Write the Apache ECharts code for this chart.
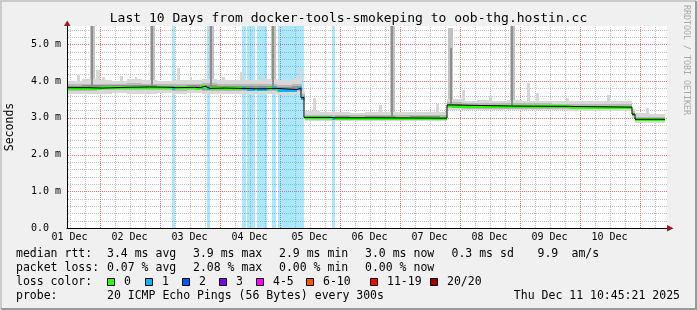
<!DOCTYPE html>
<html><head><meta charset="utf-8">
<script src="https://cdn.jsdelivr.net/npm/echarts@6/dist/echarts.min.js"></script>
<style>html,body{margin:0;padding:0;background:#f0f0f0}#c{width:697px;height:310px}</style>
</head><body><div id="c"></div>
<script>
// ---------- data (time = hours since 01 Dec 00:00) ----------
const xMinHour = 11, xMaxHour = 251, yMax = 5.5;
const dayLabels = ['01 Dec','02 Dec','03 Dec','04 Dec','05 Dec','06 Dec','07 Dec','08 Dec','09 Dec','10 Dec'];
const dayLabelHours = [12,36,60,84,108,132,156,180,204,228];
const majorGridHours = [24,48,72,96,120,144,168,192,216,240];
const minorGridHours = [12,18,30,36,42,54,60,66,78,84,90,102,108,114,126,132,138,150,156,162,174,180,186,198,204,210,222,228,234,246];
const majorGridValues = [1,2,3,4,5];
const minorGridValues = [0.2,0.4,0.6,0.8,1.2,1.4,1.6,1.8,2.2,2.4,2.6,2.8,3.2,3.4,3.6,3.8,4.2,4.4,4.6,4.8,5.2,5.4];

// median rtt (ms), step segments
const medT = [11,19,25,35,44,53,54.2,62,64.2,66.2,67,68.2,74,81,82.6,83,86.2,87,91,93,94.6,95.4,103,104.6,105.8,117,118.2,135,163,165,190,212,225,237,238.2];
const medV = [3.82,3.81,3.83,3.84,3.83,3.82,3.83,3.82,3.86,3.81,3.80,3.81,3.80,3.80,3.80,3.79,3.80,3.79,3.80,3.80,3.79,3.77,3.81,3.55,3.01,3.00,3.00,2.99,3.35,3.32,3.31,3.30,3.29,3.10,2.96];
const medLoss = [0,0,0,0,0,1,0,0,0,0,1,0,0,1,0,1,0,1,0,1,0,1,1,1,0,1,0,0,0,0,0,0,0,0,0];
const medEnd = 250.2;

// smoke layers
const smokeEdges = [11,17,23,29,35,41,47,53,59,65,71,77,83,89,95,101,105,106,112,118,124,130,136,142,148,154,160,163,169,175,181,187,193,199,205,211,217,223,229,237,238,244,250.2];
const outerLo = [3.66,3.65,3.66,3.67,3.66,3.66,3.67,3.66,3.67,3.65,3.66,3.64,3.65,3.64,3.63,3.65,3.45,2.90,2.91,2.90,2.90,2.91,2.90,2.90,2.91,2.90,2.91,3.20,3.21,3.20,3.21,3.20,3.21,3.20,3.20,3.19,3.19,3.19,3.18,3.00,2.86,2.86];
const outerHi = [4.00,4.05,4.02,4.00,4.06,4.02,4.00,4.03,4.02,4.05,4.02,4.04,4.03,4.05,4.02,4.08,3.72,3.18,3.15,3.16,3.14,3.17,3.15,3.16,3.15,3.17,3.15,3.50,3.47,3.48,3.47,3.48,3.46,3.47,3.46,3.46,3.45,3.46,3.45,3.25,3.12,3.10];
const midLo = [3.74,3.74,3.75,3.75,3.75,3.76,3.75,3.74,3.75,3.74,3.74,3.73,3.73,3.72,3.71,3.72,3.50,2.95,2.95,2.95,2.95,2.95,2.94,2.95,2.95,2.95,2.95,3.26,3.25,3.25,3.25,3.25,3.25,3.25,3.24,3.24,3.24,3.23,3.23,3.05,2.90,2.90];
const midHi = [3.92,3.93,3.92,3.93,3.94,3.93,3.92,3.92,3.93,3.95,3.92,3.93,3.92,3.92,3.90,3.93,3.66,3.08,3.07,3.08,3.07,3.08,3.08,3.07,3.08,3.08,3.07,3.42,3.40,3.39,3.40,3.40,3.39,3.39,3.38,3.38,3.38,3.37,3.37,3.18,3.03,3.02];
const innerLo = [3.78,3.78,3.79,3.79,3.79,3.79,3.78,3.78,3.79,3.77,3.77,3.77,3.77,3.76,3.75,3.76,3.53,2.97,2.97,2.97,2.97,2.97,2.97,2.97,2.97,2.97,2.97,3.29,3.28,3.28,3.28,3.28,3.28,3.28,3.27,3.27,3.27,3.26,3.26,3.08,2.93,2.93];
const innerHi = [3.87,3.88,3.88,3.89,3.89,3.88,3.87,3.87,3.88,3.88,3.86,3.86,3.86,3.86,3.84,3.87,3.60,3.04,3.03,3.04,3.03,3.04,3.04,3.03,3.04,3.04,3.03,3.37,3.35,3.35,3.35,3.35,3.34,3.34,3.34,3.33,3.33,3.32,3.32,3.14,2.99,2.99];

// small smoke blips
const blipStart = [15.0,22.6,25.0,32.2,38.0,54.8,60.0,73.0,80.2,88.0,103.6,109.4,135.6,158.4,168.8,179.6,194.8,198.4,210.4,227.0,242.4];
const blipEnd   = [16.2,24.0,26.0,33.4,39.0,56.2,61.0,74.2,81.8,89.0,105.0,110.6,136.8,159.6,170.2,180.8,196.2,199.6,211.6,228.2,243.6];
const blipTop   = [4.17,4.30,4.10,4.15,4.12,4.35,4.12,4.12,4.26,4.15,4.33,3.55,3.35,3.38,3.76,3.60,3.94,3.67,3.53,3.62,3.26];
const blipBase  = [3.8,3.8,3.8,3.8,3.8,3.8,3.8,3.8,3.8,3.8,3.8,3.0,3.0,3.0,3.3,3.3,3.3,3.3,3.3,3.3,2.95];

// tall spikes
const spikeStart = [20.0,44.0,67.6,92.4,140.0,163.4,188.0];
const spikeEnd   = [22.0,46.0,69.6,94.4,142.0,165.4,190.0];
const spikeTop   = [5.5,5.5,5.5,5.5,5.5,5.45,5.5];
const spikeBase  = [3.8,3.8,3.8,3.8,3.0,3.3,3.3];
const coreStart  = [20.6,44.6,68.2,93.0,140.6,164.0,188.6];
const coreEnd    = [21.4,45.4,69.0,93.8,141.4,164.8,189.4];
const coreTop    = [5.5,5.5,5.5,5.5,5.5,4.9,5.5];

// legend / texts
const lossLabels = ['0','1','2','3','4-5','6-10','11-19','20/20'];
const lossColors = ['#26ff00','#00b8ff','#0059ff','#7e00ff','#ff00ff','#ff5500','#ff0000','#a10000'];
const titleText = 'Last 10 Days from docker-tools-smokeping to oob-thg.hostin.cc';
const rttStats = ['3.4 ms avg','3.9 ms max','2.9 ms min','3.0 ms now','0.3 ms sd','9.9','am/s'];
const lossStats = ['0.07 % avg','2.08 % max','0.00 % min','0.00 % now'];
const probeText = '20 ICMP Echo Pings (56 Bytes) every 300s';
const dateText = 'Thu Dec 11 10:45:21 2025';

// ---------- layout ----------
const MONO = '"DejaVu Sans Mono", monospace';
const G = {left:67, top:26, width:600, height:202};
const statX = [107, 193, 279, 365, 451.5, 537.5, 571.5];
const swatchX = [107.5,145.5,182.5,219.5,256.5,306.5,370.5,430.5];
const RED = '#ec7070', GRAY = '#c0c0c0';

function rectItem(api, t0, t1, lo, hi, fill) {
  const p0 = api.coord([t0, hi]), p1 = api.coord([t1, lo]);
  const x0 = Math.round(p0[0]), x1 = Math.round(p1[0]);
  const y0 = Math.round(p0[1]), y1 = Math.round(p1[1]);
  return {type:'rect', shape:{x:x0, y:y0, width:Math.max(1, x1-x0), height:Math.max(1, y1-y0)}, style:{fill}};
}
function rectSeries(rows, colorFn, z) {
  return {type:'custom', z, silent:true, clip:true, animation:false,
    encode:{x:[0,1], y:[2,3]}, data: rows,
    renderItem: (p, api) => rectItem(api, api.value(0), api.value(1), api.value(2), api.value(3), colorFn(api))};
}
function gridSeries(rows, vertical, color) {
  return {type:'custom', z:1, silent:true, clip:false, animation:false,
    encode: vertical ? {x:0, y:1} : {x:1, y:0}, data: rows,
    renderItem: (p, api) => {
      const v = api.value(0);
      const a = vertical ? api.coord([v, 0]) : api.coord([xMinHour, v]);
      const b = vertical ? api.coord([v, yMax]) : api.coord([xMaxHour, v]);
      const sh = vertical
        ? {x1: Math.round(a[0]) + 0.5, y1: a[1], x2: Math.round(a[0]) + 0.5, y2: b[1]}
        : {x1: a[0] + 1, y1: Math.round(a[1]) + 0.5, x2: b[0], y2: Math.round(a[1]) + 0.5};
      return {type:'line', shape: sh, style:{stroke: color, lineWidth:1, lineDash:[1,1], fill:null}};
    }};
}
const lossBandRows = [];
medT.forEach((t, i) => { if (medLoss[i] > 0) lossBandRows.push([t, i+1 < medT.length ? medT[i+1] : medEnd, 0, yMax, medLoss[i]]); });
const smokeRows = (lo, hi) => lo.map((v, i) => [smokeEdges[i], smokeEdges[i+1], v, hi[i]]);
const blipRows = blipStart.map((t, i) => [t, blipEnd[i], blipBase[i], blipTop[i]]);
const spikeRows = spikeStart.map((t, i) => [t, spikeEnd[i], spikeBase[i], spikeTop[i]]);
const coreRows = coreStart.map((t, i) => [t, coreEnd[i], spikeBase[i], coreTop[i]]);
const medRows = medT.map((t, i) => [t, i+1 < medT.length ? medT[i+1] : medEnd, medV[i], medV[i], medLoss[i]]);
const medLine = medT.map((t, i) => [t, medV[i]]).concat([[medEnd, medV[medV.length-1]]]);

const series = [
  gridSeries(minorGridHours.map(t => [t, 0]), true, GRAY),
  gridSeries(minorGridValues.map(v => [v, xMinHour]), false, GRAY),
  gridSeries(majorGridHours.map(t => [t, 0]), true, RED),
  gridSeries(majorGridValues.map(v => [v, xMinHour]), false, RED),
  rectSeries(lossBandRows, api => echarts.color.modifyAlpha(lossColors[api.value(4)], 0.33), 1),
  rectSeries(blipRows, () => '#d6d6d6', 2),
  rectSeries(spikeRows, () => '#c2c2c2', 2),
  rectSeries(smokeRows(outerLo, outerHi), () => '#d8d8d8', 2),
  rectSeries(smokeRows(midLo, midHi), () => '#b8b8b8', 2),
  rectSeries(smokeRows(innerLo, innerHi), () => '#929292', 2),
  rectSeries(coreRows, () => '#8e8e8e', 2),
  {type:'line', z:2, step:'end', symbol:'none', silent:true, animation:false, data: medLine,
   lineStyle:{color:'#000', width:1}},
  {type:'custom', z:2, silent:true, clip:true, animation:false, encode:{x:[0,1], y:[2]}, data: medRows,
   renderItem: (p, api) => {
     const a = api.coord([api.value(0), api.value(2)]), b = api.coord([api.value(1), api.value(2)]);
     const x0 = Math.round(a[0]), x1 = Math.round(b[0]), y = Math.round(a[1]);
     return {type:'rect', shape:{x:x0, y:y-1, width:Math.max(1, x1-x0), height:3}, style:{fill: lossColors[api.value(4)]}};
   }}
];

// ---------- graphic (texts, legend, frame) ----------
const T = (x, y, text, opt = {}) => ({type:'text', x, y, rotation: opt.rot || 0, silent:true, z:10,
  style:{text, font: (opt.size || 11.5) + 'px ' + MONO, fill: opt.color || '#000',
    textAlign: opt.align || 'left', align: opt.align || 'left', textVerticalAlign:'middle', verticalAlign:'middle'}});
const graphic = [
  {type:'polyline', silent:true, z:10, shape:{points:[[1,309],[1,1],[696,1]]}, style:{stroke:'#cbcbcb', lineWidth:2, fill:null}},
  {type:'polyline', silent:true, z:10, shape:{points:[[1,309],[696,309],[696,1]]}, style:{stroke:'#999999', lineWidth:2, fill:null}},
  T(348.5, 19, titleText, {size:13, align:'center'}),
  T(10, G.top + G.height/2, 'Seconds', {rot: Math.PI/2, align:'center'}),
  T(686.5, 60, 'RRDTOOL / TOBI OETIKER', {rot: -Math.PI/2, align:'center', size:8.3, color:'#a8a8a8'}),
  {type:'polygon', silent:true, z:10, shape:{points:[[64,26],[70.5,26],[67.2,20.5]]}, style:{fill:'#a01818'}},
  {type:'polygon', silent:true, z:10, shape:{points:[[667,225],[667,231.5],[673.5,228.3]]}, style:{fill:'#a01818'}},
  T(16, 254, 'median rtt:'),
  T(16, 268, 'packet loss:'),
  T(16, 282, 'loss color:'),
  T(16, 296, 'probe:'),
  T(107, 296, probeText),
  T(680, 296, dateText, {align:'right'})
];
rttStats.forEach((s, i) => graphic.push(T(statX[i], 254, s)));
lossStats.forEach((s, i) => graphic.push(T(statX[i], 268, s)));
lossLabels.forEach((s, i) => {
  graphic.push({type:'rect', silent:true, z:10, shape:{x:swatchX[i], y:278.5, width:7, height:7},
    style:{fill: lossColors[i], stroke:'#000', lineWidth:1}});
  graphic.push(T(swatchX[i] + 16.5, 282, s));
});

const option = {
  backgroundColor: '#f0f0f0',
  animation: false,
  grid: Object.assign({show:true, backgroundColor:'#ffffff', borderWidth:0, containLabel:false, outerBoundsMode:'none'}, G),
  xAxis: {type:'value', min:xMinHour, max:xMaxHour, position:'bottom', z:4,
     axisLine:{show:true, onZero:false, lineStyle:{color:'#000', width:1}},
     axisTick:{show:false}, splitLine:{show:false},
     axisLabel:{show:true, customValues: dayLabelHours, margin:4, fontFamily:MONO, fontSize:10, color:'#000',
       formatter: v => { const k = dayLabelHours.indexOf(v); return k >= 0 ? dayLabels[k] : ''; }}},
  yAxis: {type:'value', min:0, max:yMax, interval:1, z:4,
     axisLine:{show:true, onZero:false, lineStyle:{color:'#000', width:1}},
     axisTick:{show:false}, splitLine:{show:false},
     axisLabel:{margin:6, fontFamily:MONO, fontSize:10, color:'#000', showMaxLabel:false,
       formatter: v => v === 0 ? '0.0  ' : v.toFixed(1) + ' m'}},
  series,
  graphic
};
const chart = echarts.init(document.getElementById('c'), null, {renderer:'canvas', width:697, height:310});
chart.setOption(option);
</script></body></html>
